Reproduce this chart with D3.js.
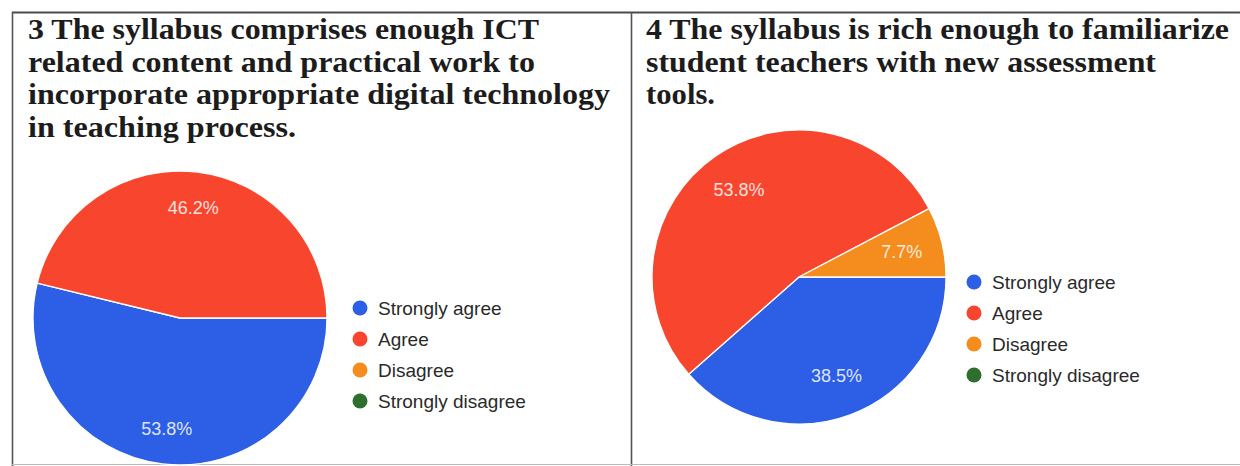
<!DOCTYPE html>
<html>
<head>
<meta charset="utf-8">
<script src="https://cdn.jsdelivr.net/npm/d3@7"></script>
<style>
  html, body { margin: 0; padding: 0; background: #ffffff; }
  svg { display: block; }
</style>
</head>
<body>
<svg id="chart" width="1240" height="466"></svg>
<script>
// ---- data ----
const categories = ["Strongly agree", "Agree", "Disagree", "Strongly disagree"];
const seriesQ3 = [53.8, 46.2, 0, 0];
const seriesQ4 = [38.5, 53.8, 7.7, 0];
const titleQ3 = [
  "3 The syllabus comprises enough ICT",
  "related content and practical work to",
  "incorporate appropriate digital technology",
  "in teaching process."
];
const titleQ4 = [
  "4 The syllabus is rich enough to familiarize",
  "student teachers with new assessment",
  "tools."
];
const colors = ["#2d5fe6", "#f8462e", "#f58c1e", "#2e6e2e"];

// ---- layout ----
const svg = d3.select("#chart");
const color = d3.scaleOrdinal().domain(categories).range(colors);

// frame
const frame = svg.append("g").attr("fill", "none");
frame.append("line").attr("x1", 12).attr("x2", 1240).attr("y1", 12.5).attr("y2", 12.5)
  .attr("stroke", "#4a4a4a").attr("stroke-width", 2);
frame.append("line").attr("x1", 12.5).attr("x2", 12.5).attr("y1", 12).attr("y2", 466)
  .attr("stroke", "#555").attr("stroke-width", 1.6);
frame.append("line").attr("x1", 631.5).attr("x2", 631.5).attr("y1", 12).attr("y2", 466)
  .attr("stroke", "#555").attr("stroke-width", 1.6);
frame.append("line").attr("x1", 12).attr("x2", 1240).attr("y1", 464.5).attr("y2", 464.5)
  .attr("stroke", "#bbb").attr("stroke-width", 1);

const panels = [
  { title: titleQ3, values: seriesQ3, tx: 28, tEnds: [539, 535, 610, 296],
    cx: 180, cy: 318, r: 147, legX: 360, legY: 308, labR: 0.76 },
  { title: titleQ4, values: seriesQ4, tx: 646, tEnds: [1229, 1156, 715],
    cx: 799, cy: 277, r: 147, legX: 974, legY: 282, labR: 0.72 }
];

const pie = d3.pie().sort(null).value(d => d.v)
  .startAngle(Math.PI / 2).endAngle(Math.PI / 2 + 2 * Math.PI);

panels.forEach(p => {
  // title
  const tg = svg.append("g")
    .attr("font-family", "'Liberation Serif', 'Times New Roman', serif")
    .attr("font-weight", "bold").attr("font-size", 29.5).attr("fill", "#1c1c1c");
  p.title.forEach((line, i) => {
    tg.append("text").attr("x", p.tx).attr("y", 39 + i * 32.7)
      .attr("textLength", p.tEnds[i] - p.tx).attr("lengthAdjust", "spacingAndGlyphs")
      .text(line);
  });

  // pie
  const data = categories.map((c, i) => ({ c, v: p.values[i] }));
  const arcs = pie(data).filter(a => a.data.v > 0);
  const arc = d3.arc().innerRadius(0).outerRadius(p.r);
  const labelArc = d3.arc().innerRadius(p.r * p.labR).outerRadius(p.r * p.labR);
  const g = svg.append("g").attr("transform", `translate(${p.cx},${p.cy})`);
  g.selectAll("path").data(arcs).join("path")
    .attr("d", arc).attr("fill", d => color(d.data.c))
    .attr("stroke", "#ffffff").attr("stroke-width", 1.3).attr("stroke-linejoin", "round");
  g.selectAll("text").data(arcs).join("text")
    .attr("transform", d => `translate(${labelArc.centroid(d)})`)
    .attr("text-anchor", "middle").attr("dy", "0.36em")
    .attr("font-family", "'Liberation Sans', Arial, sans-serif")
    .attr("font-size", 18).attr("fill", "#ffffff").attr("fill-opacity", 0.85)
    .text(d => d.data.v.toFixed(1) + "%");

  // legend
  const lg = svg.append("g").attr("transform", `translate(${p.legX},${p.legY})`);
  const items = lg.selectAll("g").data(categories).join("g")
    .attr("transform", (d, i) => `translate(0,${i * 31})`);
  items.append("circle").attr("r", 7.5).attr("fill", d => color(d));
  items.append("text").attr("x", 18).attr("dy", "0.35em")
    .attr("font-family", "'Liberation Sans', Arial, sans-serif")
    .attr("font-size", 19).attr("fill", "#2a2a2a")
    .text(d => d);
});
</script>
</body>
</html>
